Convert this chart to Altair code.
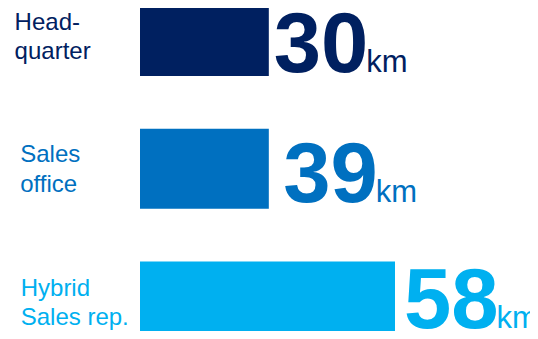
import altair as alt
import pandas as pd

# ---- data ----
categories = ["Headquarter", "Sales office", "Hybrid Sales rep."]
label_text = ["Head-\nquarter", "Sales\noffice", "Hybrid\nSales rep."]
distance_km = [30, 39, 58]
# bar lengths as drawn in the reference (the Sales office bar is drawn as long as Headquarter's)
bar_length_km = [29.3, 29.3, 58.0]
unit = ["km", "km", "km"]
colors = ["#002060", "#0070C0", "#00B0F0"]

df = pd.DataFrame({
    "category": categories,
    "label": label_text,
    "distance": distance_km,
    "bar": bar_length_km,
    "unit": unit,
})

FONT = "Liberation Sans"
W, H = 522, 323

y_scale = alt.Scale(domain=categories, range=[-12, 333.5], paddingInner=0.3974, paddingOuter=0)
x_scale = alt.Scale(domain=[0, 58], range=[132, 387])
color = alt.Color("category:N", scale=alt.Scale(domain=categories, range=colors), legend=None)

base = alt.Chart(df).encode(
    y=alt.Y("category:N", scale=y_scale, axis=None, sort=categories),
    color=color,
)

layers = [base.mark_bar(clip=True).encode(x=alt.X("bar:Q", scale=x_scale, axis=None))]

# per-row text placement (label x, label dy, number dx, number dy)
placement = {
    "Headquarter": (6.6, -25, 5, 36),
    "Sales office": (12.2, -25.5, 14.5, 33),
    "Hybrid Sales rep.": (12.7, -25, 9, 26.5),
}

for cat in categories:
    lx, ly, nx, ny = placement[cat]
    row = base.transform_filter(alt.datum.category == cat)
    layers.append(
        row.mark_text(align="left", baseline="top", font=FONT, fontSize=24,
                      lineBreak="\n", lineHeight=29.5, dy=ly, clip=True)
        .encode(x=alt.value(lx), text="label:N")
    )
    layers.append(
        row.mark_text(align="left", baseline="alphabetic", font=FONT, fontSize=85,
                      fontWeight="bold", dx=nx, dy=ny, clip=True)
        .encode(x=alt.X("bar:Q", scale=x_scale, axis=None), text="distance:N")
    )
    layers.append(
        row.mark_text(align="left", baseline="alphabetic", font=FONT, fontSize=31,
                      dx=nx + 92.5, dy=ny, clip=True)
        .encode(x=alt.X("bar:Q", scale=x_scale, axis=None), text="unit:N")
    )

chart = (
    alt.layer(*layers)
    .properties(width=W, height=H, autosize=alt.AutoSizeParams(type="none"), padding=0)
    .configure_view(stroke=None)
)

chart.save("out.html", embed_options={"renderer": "svg", "actions": False})
